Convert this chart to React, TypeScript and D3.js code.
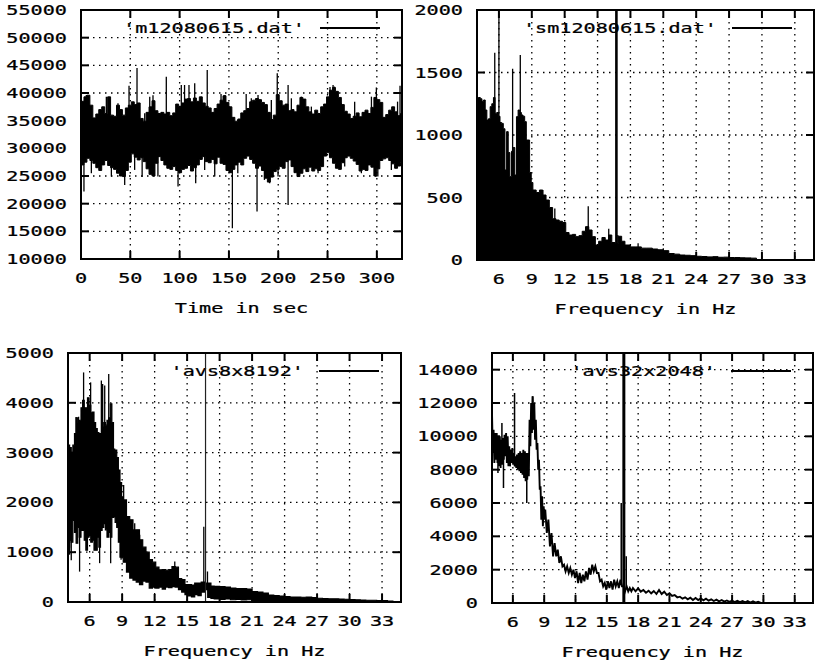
import React from "react";
import * as d3 from "d3";

// ---------- Panel 1: time series 'm12080615.dat' (min/max envelope per 3 s bin) ----------
const timeBins = [
  0, 3, 6, 9, 12, 15, 18, 21, 24, 27, 30, 33, 36, 39, 42, 45, 48, 51, 54, 57,
  60, 63, 66, 69, 72, 75, 78, 81, 84, 87, 90, 93, 96, 99, 102, 105, 108, 111, 114, 117,
  120, 123, 126, 129, 132, 135, 138, 141, 144, 147, 150, 153, 156, 159, 162, 165, 168, 171, 174, 177,
  180, 183, 186, 189, 192, 195, 198, 201, 204, 207, 210, 213, 216, 219, 222, 225, 228, 231, 234, 237,
  240, 243, 246, 249, 252, 255, 258, 261, 264, 267, 270, 273, 276, 279, 282, 285, 288, 291, 294, 297,
  300, 303, 306, 309, 312, 315, 318, 321, 324,
];
const timeMax = [
  38500, 39300, 39600, 37800, 35500, 36200, 37000, 37500, 36300, 39300,
  36000, 35800, 37800, 37000, 36000, 37300, 37800, 38400, 37900, 38200,
  35400, 34900, 36500, 37500, 38600, 36800, 36300, 36500, 36200, 36500,
  35900, 36400, 38000, 37600, 38200, 38900, 39000, 38400, 39100, 38500,
  39300, 38200, 37600, 37300, 36500, 37200, 38000, 38700, 39500, 38300,
  37500, 35600, 34900, 35300, 36400, 36800, 37200, 38400, 38700, 39000,
  38800, 38300, 37900, 36500, 35200, 36000, 39700, 38600, 37800, 38000,
  36800, 37000, 36600, 37800, 39200, 38900, 37500, 36600, 36200, 36900,
  36300, 37500, 38000, 39300, 40500, 41000, 40300, 39200, 37900, 36700,
  36200, 35400, 35800, 36400, 35700, 36500, 36900, 36300, 37400, 39200,
  38800, 38300, 35600, 36100, 36900, 37500, 36600, 35900, 36300,
];
const timeMin = [
  27000, 27500, 28200, 27800, 27300, 26500, 26000, 27000, 27800, 26900,
  26500, 26200, 25500, 25000, 24900, 26000, 27500, 29000, 28400, 27900,
  28300, 27600, 26300, 25300, 25000, 27300, 28500, 27800, 27000, 26400,
  26200, 26700, 26000, 25600, 26200, 26400, 26900, 25900, 26500, 27000,
  28000, 28500, 27600, 27400, 28000, 27200, 28400, 27300, 27100, 26000,
  25600, 26200, 27000, 27500, 27000, 28200, 28600, 28000, 27300, 26400,
  26800, 26000, 24600, 23900, 24800, 25800, 26200, 26700, 26400, 27600,
  27900, 26700, 25600, 24900, 25500, 26300, 25800, 26600, 25900, 26300,
  26000, 26700, 28600, 29200, 28300, 27300, 26400, 26200, 27400, 28300,
  28600, 28200, 27700, 27100, 25900, 26200, 26000, 27000, 26600, 25000,
  26300, 27800, 28100, 28300, 27800, 27200, 26400, 26800, 27500,
];
const timeSpikesUp: [number, number][] = [
  [5.4, 39640], [25.7, 39340], [37.5, 38140], [48.7, 41300], [56.8, 44500], [64.6, 36330],
  [69.7, 39340], [73, 39600], [86.5, 42950], [101.7, 41450], [105, 41450], [109.5, 41450],
  [115.3, 41750], [128, 44160], [142, 39800], [145.8, 39640], [167.5, 39800], [172.7, 39040],
  [179.5, 39640], [193, 38740], [199, 43560], [210, 41450], [213.3, 39040], [223.5, 39340],
  [233.6, 37540], [252.5, 41100], [255.6, 41450], [257, 41150], [264, 38140], [277.5, 38440],
  [294.5, 39340], [299.5, 41000], [304.6, 38140], [321, 38440], [323.5, 41300],
];
const timeSpikesDown: [number, number][] = [
  [3, 22180], [10.5, 25500], [30.8, 24890], [44.3, 23390], [54.4, 26100], [62, 24800],
  [78, 24890], [98.4, 23090], [116.3, 23690], [125.4, 26100], [135.6, 24890], [153.5, 15560],
  [159, 25500], [178.5, 18570], [186, 24290], [191.3, 23690], [199.8, 24890], [210, 19780],
  [220, 24890], [240.4, 25500], [267.4, 26700], [284.3, 25500], [301, 24890], [314.7, 26100],
];

// ---------- Frequency grid shared by the three spectra ----------
const freqs = [
  4.0, 4.15, 4.3, 4.45, 4.6, 4.75, 4.9, 5.05, 5.2, 5.35,
  5.5, 5.65, 5.8, 5.95, 6.1, 6.25, 6.4, 6.55, 6.7, 6.85,
  7.0, 7.15, 7.3, 7.45, 7.6, 7.75, 7.9, 8.05, 8.2, 8.35,
  8.5, 8.65, 8.8, 8.95, 9.1,
  9.4, 9.7, 10.0, 10.3, 10.6, 10.9, 11.2, 11.5, 11.8, 12.1,
  12.4, 12.7, 13.0, 13.3, 13.6, 13.9, 14.2, 14.5, 14.8, 15.1,
  15.4, 15.7, 16.0, 16.3, 16.6, 16.9, 17.2, 17.5,
  18.0, 18.5, 19.0, 19.5, 20.0, 20.5, 21.0, 21.5, 22.0, 22.5,
  23.0, 23.5, 24.0, 24.5, 25.0, 25.5, 26.0, 26.5, 27.0, 27.5,
  28.0, 28.5, 29.0, 29.5, 30.0, 30.5, 31.0, 31.5, 32.0, 32.5,
  33.0, 33.5, 34.0, 34.5,
];

// ---------- Panel 2: 'sm12080615.dat' ----------
const smHi = [
  1300, 1300, 1290, 1270, 1280, 1200, 1120, 1130, 1227, 1250,
  1300, 1173, 1180, 1150, 1100, 1093, 1050, 720, 1027, 860,
  667, 870, 900, 680, 1147, 1200, 1180, 1160, 1150, 1107,
  960, 960, 700, 620, 560,
  540, 560, 520, 480, 420, 330, 320, 310, 300, 220,
  200, 205, 187, 195, 230, 267, 240, 187, 120, 150,
  180, 160, 200, 140, 130, 190, 150, 120,
  105, 105, 95, 95, 88, 82, 75, 52, 47, 40,
  38, 35, 30, 28, 25, 27, 22, 23, 20, 20,
  18, 17, 15, 4, 3, 3, 3, 3, 3, 3,
  3, 3, 3, 3,
];
const smSpikes: [number, number][] = [
  [5.62, 1659], [6.0, 1980], [7.25, 1530], [7.95, 1640], [10.0, 560], [11.1, 413],
  [14.15, 430], [16.02, 250], [16.85, 200], [18.7, 135], [21.0, 95],
];
const smPeak = [16.72, 9000];

// ---------- Panel 3: 'avs8x8192' ----------
const avs8Hi = [
  3150, 3100, 2980, 3150, 3380, 3700, 3600, 3650, 3900, 4050,
  3900, 3900, 4100, 3950, 3800, 3813, 3600, 3480, 3400, 3380,
  3300, 3513, 3600, 3550, 3650, 3700, 3980, 3600, 2980, 3050,
  2900, 2650, 2400, 2113, 2050,
  1713, 1650, 1447, 1450, 1250, 1100, 1000, 850, 800, 700,
  647, 650, 640, 650, 713, 700, 470, 450, 350, 350,
  340, 380, 380, 400, 380, 380, 320, 313,
  310, 300, 280, 270, 270, 260, 210, 200, 180, 140,
  130, 120, 110, 100, 100, 95, 100, 90, 75, 70,
  65, 65, 60, 55, 50, 45, 40, 35, 35, 30,
  30, 20, 10, 5,
];
const avs8Lo = [
  1100, 1240, 1200, 1640, 1400, 1180, 1500, 1300, 1440, 1440,
  1240, 1040, 1300, 1333, 1200, 1240, 1040, 1040, 1300, 1100,
  1440, 1500, 1573, 1450, 1300, 1400, 1300, 1700, 1707, 1600,
  1500, 1200, 900, 900, 800,
  600, 480, 440, 400, 350, 420, 400, 280, 300, 280,
  300, 260, 300, 290, 310, 300, 250, 200, 150, 120,
  100, 150, 130, 200, 250, 90, 70, 60,
  50, 60, 45, 50, 40, 45, 30, 20, 15, 10,
  10, 0, 0, 0, 0, 0, 0, 0, 0, 0,
  0, 0, 0, 0, 0, 0, 0, 0, 0, 0,
  0, 0, 0, 0,
];
const avs8SpikesUp: [number, number][] = [
  [4.75, 3713], [4.98, 3720], [5.44, 4610], [6.09, 4410], [7.08, 4447], [7.2, 4380],
  [7.39, 4347], [7.76, 4580], [8.31, 3080], [9.14, 2347], [10.16, 1580], [10.62, 1350],
  [11.09, 1080], [13.86, 813], [16.54, 1513], [16.88, 613],
];
const avs8SpikesDown: [number, number][] = [
  [4.15, 950], [4.3, 840], [5.07, 610], [6.92, 780], [7.94, 780], [8.9, 850],
];
const avs8Peak = [16.7, 9000];

// ---------- Panel 4: 'avs32x2048' ----------
const avs32Hi = [
  11400, 10400, 10200, 10200, 10000, 10000, 9800, 9900, 10100, 10200,
  10000, 9400, 9200, 9300, 9000, 8800, 8900, 9000, 9100, 9000,
  9200, 9100, 9000, 9000, 11000, 12000, 12400, 12000, 11000, 9600,
  8600, 7000, 6400, 5800, 5600,
  5000, 4200, 3600, 3200, 2800, 2300, 2200, 2100, 2000, 1900,
  1800, 1700, 1900, 2100, 2300, 2200, 1800, 1400, 1200, 1300,
  1300, 1400, 1300, 1400, 1000, 1000, 900, 900,
  880, 780, 740, 720, 780, 680, 580, 480, 380, 340,
  320, 300, 280, 260, 220, 200, 180, 150, 140, 130,
  120, 110, 100, 80, 0, 0, 0, 0, 0, 0,
  0, 0, 0, 0,
];
const avs32Lo = [
  9000, 8400, 8600, 8400, 8200, 8100, 8300, 8600, 8800, 8400,
  8200, 8200, 8400, 8300, 8200, 8100, 8000, 7900, 7800, 7700,
  7500, 7300, 7400, 7600, 9400, 10200, 10400, 9800, 9200, 8000,
  6800, 5000, 4600, 5000, 4200,
  3400, 2800, 2800, 2400, 2200, 1900, 1800, 1700, 1500, 1200,
  1200, 1300, 1400, 1700, 1900, 1800, 1300, 1000, 800, 900,
  800, 1000, 900, 1000, 700, 700, 700, 700,
  680, 620, 580, 540, 540, 480, 420, 340, 260, 220,
  180, 180, 160, 140, 120, 100, 80, 70, 60, 50,
  40, 30, 20, 10, 0, 0, 0, 0, 0, 0,
  0, 0, 0, 0,
];
const avs32SpikesUp: [number, number][] = [
  [4.95, 10800], [6.16, 12600], [7.88, 12400], [16.38, 6000], [16.86, 2800],
];
const avs32SpikesDown: [number, number][] = [
  [4.57, 7800], [5.1, 6900], [7.33, 6000],
];
const avs32Peak = [16.63, 40000];

// ---------- ticks ----------
const timeTicks = [0, 50, 100, 150, 200, 250, 300];
const freqTicks = [6, 9, 12, 15, 18, 21, 24, 27, 30, 33];
const yTicks1 = [10000, 15000, 20000, 25000, 30000, 35000, 40000, 45000, 50000, 55000];
const yTicks2 = [0, 500, 1000, 1500, 2000];
const yTicks3 = [0, 1000, 2000, 3000, 4000, 5000];
const yTicks4 = [0, 2000, 4000, 6000, 8000, 10000, 12000, 14000];

const FONT = "'DejaVu Sans Mono', 'Liberation Mono', monospace";
const FS = 14;
const SX = 1.44;

function Txt({ x, y, anchor = "start", children }: any) {
  return (
    <text
      transform={`translate(${x},${y}) scale(${SX},1)`}
      textAnchor={anchor}
      fontFamily={FONT}
      fontSize={FS}
      fill="#000"
      stroke="#000"
      strokeWidth={0.25}
    >
      {children}
    </text>
  );
}

type Box = { left: number; top: number; right: number; bottom: number };

function Panel({
  id, box, xDomain, yDomain, xTicks, yTicks, xTitle, legend, render,
}: {
  id: string; box: Box; xDomain: [number, number]; yDomain: [number, number];
  xTicks: number[]; yTicks: number[]; xTitle: string; legend: string;
  render: (x: d3.ScaleLinear<number, number>, y: d3.ScaleLinear<number, number>) => React.ReactNode;
}) {
  const x = d3.scaleLinear().domain(xDomain).range([box.left, box.right]);
  const y = d3.scaleLinear().domain(yDomain).range([box.bottom, box.top]);
  const TL = 8;
  const dash = "1.5,4.5";
  return (
    <g>
      <defs>
        <clipPath id={id}>
          <rect x={box.left} y={box.top} width={box.right - box.left} height={box.bottom - box.top} />
        </clipPath>
      </defs>
      {yTicks.map((v) => {
        const yy = y(v);
        if (yy <= box.top + 1 || yy >= box.bottom - 1) return null;
        return <line key={"gy" + v} x1={box.left} x2={box.right} y1={yy} y2={yy} stroke="#000" strokeWidth={1.3} strokeDasharray={dash} />;
      })}
      {xTicks.map((v) => {
        const xx = x(v);
        if (xx <= box.left + 1 || xx >= box.right - 1) return null;
        return <line key={"gx" + v} y1={box.top} y2={box.bottom} x1={xx} x2={xx} stroke="#000" strokeWidth={1.3} strokeDasharray={dash} />;
      })}
      <Txt x={box.right - 97} y={box.top + 23} anchor="end">{legend}</Txt>
      <line x1={box.right - 82} x2={box.right - 22} y1={box.top + 18} y2={box.top + 18} stroke="#000" strokeWidth={2} />
      <g clipPath={`url(#${id})`}>{render(x, y)}</g>
      <rect x={box.left} y={box.top} width={box.right - box.left} height={box.bottom - box.top} fill="none" stroke="#000" strokeWidth={2} />
      {yTicks.map((v) => (
        <g key={"ty" + v}>
          <line x1={box.left} x2={box.left + TL} y1={y(v)} y2={y(v)} stroke="#000" strokeWidth={2} />
          <line x1={box.right} x2={box.right - TL} y1={y(v)} y2={y(v)} stroke="#000" strokeWidth={2} />
          <Txt x={box.left - 14} y={y(v) + 5} anchor="end">{String(v)}</Txt>
        </g>
      ))}
      {xTicks.map((v) => (
        <g key={"tx" + v}>
          <line x1={x(v)} x2={x(v)} y1={box.bottom} y2={box.bottom - TL} stroke="#000" strokeWidth={2} />
          <line x1={x(v)} x2={x(v)} y1={box.top} y2={box.top + TL} stroke="#000" strokeWidth={2} />
          <Txt x={x(v)} y={box.bottom + 24} anchor="middle">{String(v)}</Txt>
        </g>
      ))}
      <Txt x={(box.left + box.right) / 2} y={box.bottom + 54} anchor="middle">{xTitle}</Txt>
    </g>
  );
}

function nearestIndex(grid: number[], v: number) {
  return d3.minIndex(grid, (g) => Math.abs(g - v));
}

function spikes(
  list: [number, number][], grid: number[], hi: number[], lo: number[] | null,
  x: any, y: any, w = 1.3,
) {
  return list.map(([f, v], k) => {
    const i = nearestIndex(grid, f);
    const base = lo ? (hi[i] + lo[i]) / 2 : 0;
    return <line key={k} x1={x(f)} x2={x(f)} y1={y(base)} y2={y(v)} stroke="#000" strokeWidth={w} />;
  });
}

export default function App() {
  const freqDomain: [number, number] = [4, 34.75];

  return (
    <svg width={815} height={667} style={{ display: "block", position: "absolute", left: 0, top: 0, background: "#fff" }}>
      <rect x={0} y={0} width={815} height={667} fill="#fff" />

      <Panel
        id="c1" box={{ left: 81, top: 10, right: 402, bottom: 259 }}
        xDomain={[0, 325.5]} yDomain={[10000, 55000]}
        xTicks={timeTicks} yTicks={yTicks1} xTitle="Time in sec" legend="'m12080615.dat'"
        render={(x, y) => {
          const area = d3.area<number>()
            .x((d) => x(d))
            .y0((_, i) => y(timeMin[i]))
            .y1((_, i) => y(timeMax[i]))
            .curve(d3.curveStepAfter);
          return (
            <g>
              <path d={area(timeBins) || ""} fill="#000" stroke="#000" strokeWidth={1} />
              {spikes(timeSpikesUp, timeBins, timeMax, timeMin, x, y, 1.3)}
              {spikes(timeSpikesDown, timeBins, timeMax, timeMin, x, y, 1.3)}
            </g>
          );
        }}
      />

      <Panel
        id="c2" box={{ left: 477, top: 10, right: 814, bottom: 260 }}
        xDomain={freqDomain} yDomain={[0, 2000]}
        xTicks={freqTicks} yTicks={yTicks2} xTitle="Frequency in Hz" legend="'sm12080615.dat'"
        render={(x, y) => {
          const area = d3.area<number>()
            .x((d) => x(d))
            .y0(() => y(0))
            .y1((_, i) => y(smHi[i]))
            .curve(d3.curveStepAfter);
          return (
            <g>
              <path d={area(freqs) || ""} fill="#000" stroke="#000" strokeWidth={1} />
              {spikes(smSpikes, freqs, smHi, null, x, y, 1.3)}
              <line x1={x(smPeak[0])} x2={x(smPeak[0])} y1={y(0)} y2={y(smPeak[1])} stroke="#000" strokeWidth={2.6} />
            </g>
          );
        }}
      />

      <Panel
        id="c3" box={{ left: 68, top: 353, right: 401, bottom: 602 }}
        xDomain={freqDomain} yDomain={[0, 5000]}
        xTicks={freqTicks} yTicks={yTicks3} xTitle="Frequency in Hz" legend="'avs8x8192'"
        render={(x, y) => {
          const area = d3.area<number>()
            .x((d) => x(d))
            .y0((_, i) => y(avs8Lo[i]))
            .y1((_, i) => y(avs8Hi[i]))
            .curve(d3.curveStepAfter);
          return (
            <g>
              <path d={area(freqs) || ""} fill="#000" stroke="#000" strokeWidth={1.2} />
              {spikes(avs8SpikesUp, freqs, avs8Hi, avs8Lo, x, y, 1.3)}
              {spikes(avs8SpikesDown, freqs, avs8Hi, avs8Lo, x, y, 1.3)}
              <line x1={x(avs8Peak[0])} x2={x(avs8Peak[0])} y1={y(0)} y2={y(avs8Peak[1])} stroke="#222" strokeWidth={1.2} />
            </g>
          );
        }}
      />

      <Panel
        id="c4" box={{ left: 492, top: 353, right: 813, bottom: 603 }}
        xDomain={freqDomain} yDomain={[0, 15000]}
        xTicks={freqTicks} yTicks={yTicks4} xTitle="Frequency in Hz" legend="'avs32x2048'"
        render={(x, y) => {
          const pts: [number, number][] = [];
          freqs.forEach((f, i) => {
            const next = i < freqs.length - 1 ? freqs[i + 1] : f;
            pts.push([x(f), y(avs32Hi[i])]);
            pts.push([x((f + next) / 2), y(avs32Lo[i])]);
          });
          const line = d3.line();
          return (
            <g>
              <path d={line(pts) || ""} fill="none" stroke="#000" strokeWidth={1.9} />
              {spikes(avs32SpikesUp, freqs, avs32Hi, avs32Lo, x, y, 1.5)}
              {spikes(avs32SpikesDown, freqs, avs32Hi, avs32Lo, x, y, 1.5)}
              <line x1={x(avs32Peak[0])} x2={x(avs32Peak[0])} y1={y(0)} y2={y(avs32Peak[1])} stroke="#000" strokeWidth={3} />
            </g>
          );
        }}
      />
    </svg>
  );
}
